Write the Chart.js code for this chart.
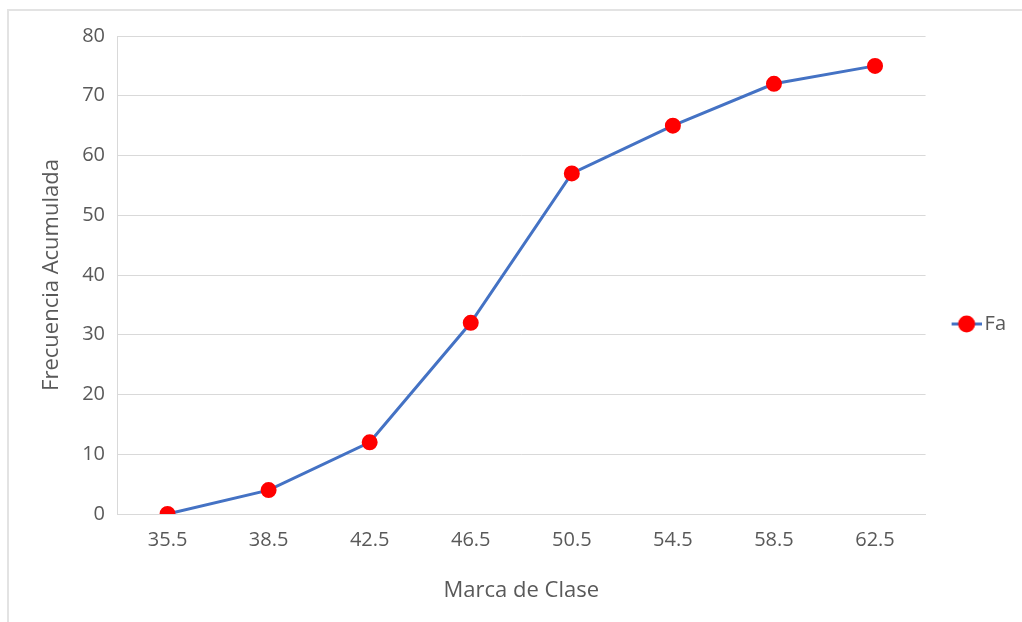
<!DOCTYPE html>
<html>
<head>
<meta charset="utf-8">
<script src="https://cdn.jsdelivr.net/npm/chart.js@4/dist/chart.umd.min.js"></script>
<style>
  html, body { margin: 0; padding: 0; background: #fff; }
  #wrap { width: 1022px; height: 622px; }
</style>
</head>
<body>
<div id="wrap"><canvas id="myChart" width="1022" height="622"></canvas></div>
<script>
const categories = ['35.5', '38.5', '42.5', '46.5', '50.5', '54.5', '58.5', '62.5'];
const fa = [0, 4, 12, 32, 57, 65, 72, 75];
const seriesName = 'Fa';
const xTitle = 'Marca de Clase';
const yTitle = 'Frecuencia Acumulada';

const FONT = "'Open Sans', 'Liberation Sans', sans-serif";
const GREY = '#595959';

// legend symbol: line with a dot on it, like Excel (left 6px blank to nudge it right)
const legendIcon = document.createElement('canvas');
legendIcon.width = 36;
legendIcon.height = 20;
let ic = legendIcon.getContext('2d');
ic.strokeStyle = '#4472C4';
ic.lineWidth = 3;
ic.beginPath();
ic.moveTo(6, 10);
ic.lineTo(36, 10);
ic.stroke();
ic.fillStyle = '#ff0000';
ic.beginPath();
ic.arc(21, 10, 8.5, 0, Math.PI * 2);
ic.fill();

const frame = {
    id: 'frame',
    beforeDraw(chart) {
        let c = chart.ctx;
        c.save();
        c.strokeStyle = '#e3e3e3';
        c.lineWidth = 2;
        c.beginPath();
        c.moveTo(8, 622);
        c.lineTo(8, 10);
        c.lineTo(1022, 10);
        c.stroke();
        c.restore();
    }
};

let ctx = document.getElementById('myChart');
let myChart = new Chart(ctx, {
    type: 'line',
    data: {
        labels: categories,
        datasets: [{
            label: seriesName,
            data: fa,
            borderColor: '#4472C4',
            borderWidth: 3,
            pointBackgroundColor: '#ff0000',
            pointBorderColor: '#ff0000',
            pointRadius: 6.5,
            pointHoverRadius: 6.5,
            tension: 0,
            fill: false
        }]
    },
    plugins: [frame],
    options: {
        responsive: false,
        animation: false,
        layout: { padding: { left: 10, right: 6, top: 36, bottom: 10 } },
        plugins: {
            tooltip: { enabled: false },
            legend: {
                position: 'right',
                labels: {
                    usePointStyle: true,
                    pointStyleWidth: 22,
                    font: { family: FONT, size: 20 },
                    color: GREY,
                    padding: 27,
                    generateLabels(chart) {
                        return [{
                            text: seriesName,
                            pointStyle: legendIcon,
                            fontColor: GREY,
                            datasetIndex: 0
                        }];
                    }
                }
            }
        },
        scales: {
            x: {
                offset: true,
                grid: { display: false, drawTicks: false },
                border: { display: true, color: '#d9d9d9', width: 1 },
                ticks: { color: GREY, font: { family: FONT, size: 20 }, padding: 14, maxRotation: 0 },
                title: { display: true, text: xTitle, color: GREY, font: { family: FONT, size: 22 }, padding: { top: 0, bottom: 8 } },
                afterFit(scale) { scale.height = 98; }
            },
            y: {
                min: 0,
                max: 80,
                ticks: { stepSize: 10, color: GREY, font: { family: FONT, size: 20 }, padding: 12 },
                grid: { color: '#d9d9d9', lineWidth: 1, drawTicks: false },
                border: { display: true, color: '#d9d9d9', width: 1 },
                title: { display: true, text: yTitle, color: GREY, font: { family: FONT, size: 22 }, padding: { top: 29, bottom: 0 } },
                afterFit(scale) { scale.width = 107; }
            }
        }
    }
});
</script>
</body>
</html>
